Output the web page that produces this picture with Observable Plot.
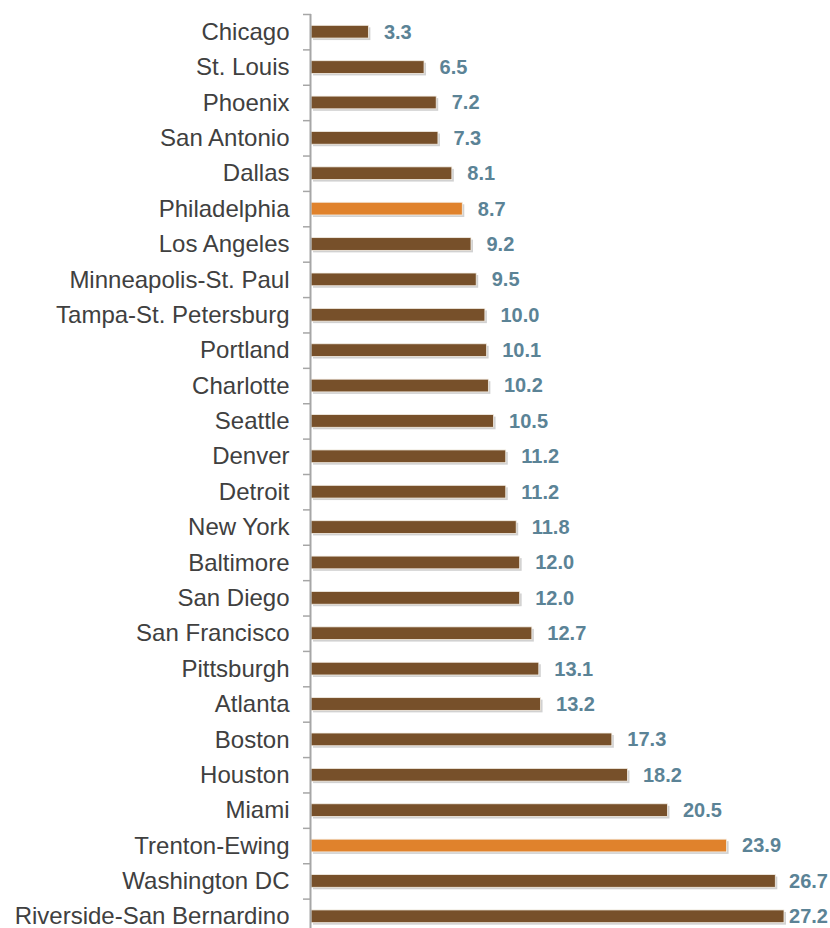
<!DOCTYPE html>
<html>
<head>
<meta charset="utf-8">
<script src="https://cdn.jsdelivr.net/npm/d3@7"></script>
<script src="https://cdn.jsdelivr.net/npm/@observablehq/plot@0.6"></script>
<style>
  html, body { margin: 0; padding: 0; background: #fff; overflow: hidden; }
  #chart { width: 830px; height: 928px; }
</style>
</head>
<body>
<div id="chart"></div>
<script>
const cities = [
  "Chicago", "St. Louis", "Phoenix", "San Antonio", "Dallas", "Philadelphia",
  "Los Angeles", "Minneapolis-St. Paul", "Tampa-St. Petersburg", "Portland",
  "Charlotte", "Seattle", "Denver", "Detroit", "New York", "Baltimore",
  "San Diego", "San Francisco", "Pittsburgh", "Atlanta", "Boston", "Houston",
  "Miami", "Trenton-Ewing", "Washington DC", "Riverside-San Bernardino"
];
const values = [
  3.3, 6.5, 7.2, 7.3, 8.1, 8.7,
  9.2, 9.5, 10.0, 10.1,
  10.2, 10.5, 11.2, 11.2, 11.8, 12.0,
  12.0, 12.7, 13.1, 13.2, 17.3, 18.2,
  20.5, 23.9, 26.7, 27.2
];
const highlighted = ["Philadelphia", "Trenton-Ewing"];

const brown = "#77502a";
const orange = "#e0822c";
const labelColor = "#5b8396";

const data = cities.map((c, i) => ({city: c, value: values[i], hi: highlighted.includes(c)}));

const W = 830, H = 928;
const yTop = 14, yBottom = 934;
const step = (yBottom - yTop) / cities.length;

const chart = Plot.plot({
  width: W,
  height: H,
  marginLeft: 311,
  marginRight: 46,
  marginTop: yTop,
  marginBottom: 0,
  style: {fontFamily: "'Liberation Sans', Arial, sans-serif", background: "#fff"},
  x: {domain: [0, 27.2], axis: null},
  y: {domain: cities, range: [yTop, yBottom], paddingInner: 0.64, paddingOuter: 0.32, round: false, axis: null},
  marks: [
    // shadow
    Plot.barX(data, {x: "value", y: "city", fill: "#000", fillOpacity: 0.18, dx: 2, dy: 2}),
    Plot.barX(data, {x: "value", y: "city", fill: d => d.hi ? orange : brown, stroke: "#f4efe6", strokeWidth: 0.8}),
    // category tick marks at band boundaries
    Plot.axisY({tickSize: 8, dy: -step / 2, text: null, label: null, stroke: "#a6a6a6", strokeWidth: 1.5, tickPadding: 0}),
    // category labels
    Plot.axisY({tickSize: 0, tickPadding: 22, fontSize: 24, fill: "#404040", label: null}),
    // axis line
    Plot.ruleX([0], {stroke: "#a6a6a6", strokeWidth: 2, dx: -1}),
    // value labels
    Plot.text(data, {
      x: "value", y: "city", text: d => d.value.toFixed(1), textAnchor: "start", dx: 15,
      fill: labelColor, fontWeight: "bold", fontSize: 20
    })
  ]
});

document.getElementById("chart").appendChild(chart);

// keep value labels inside the chart area (as the original does)
const svgRect = chart.getBoundingClientRect();
chart.querySelectorAll("text").forEach(t => {
  if (!/^\d+\.\d$/.test(t.textContent)) return;
  const r = t.getBoundingClientRect();
  const over = (r.right - svgRect.left) - (W - 2);
  if (over > 0) {
    const prev = t.getAttribute("transform") || "";
    t.setAttribute("transform", `${prev} translate(${-over},0)`.trim());
  }
});
</script>
</body>
</html>
